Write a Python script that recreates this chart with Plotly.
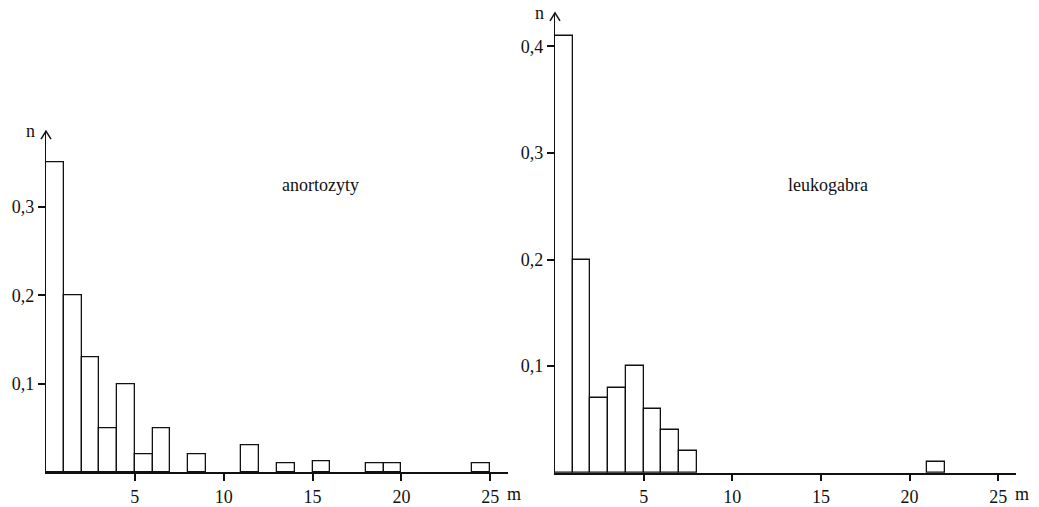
import plotly.graph_objects as go

# Relative frequency n of each 1 m class of m (bins 0-1, 1-2, ... 25-26)
anortozyty = [0.35, 0.20, 0.13, 0.05, 0.10, 0.02, 0.05, 0.0, 0.02, 0.0,
              0.0, 0.03, 0.0, 0.01, 0.0, 0.012, 0.0, 0.0, 0.01, 0.01,
              0.0, 0.0, 0.0, 0.0, 0.01, 0.0]
leukogabra = [0.41, 0.20, 0.07, 0.08, 0.10, 0.06, 0.04, 0.02, 0.0, 0.0,
              0.0, 0.0, 0.0, 0.0, 0.0, 0.0, 0.0, 0.0, 0.0, 0.0,
              0.0, 0.01, 0.0, 0.0, 0.0, 0.0]

x_ticks = [5, 10, 15, 20, 25]
x_ticktext = ["5", "10", "15", "20", "25"]
left_yticks = [0.1, 0.2, 0.3]
left_yticktext = ["0,1", "0,2", "0,3"]
right_yticks = [0.1, 0.2, 0.3, 0.4]
right_yticktext = ["0,1", "0,2", "0,3", "0,4"]
titles = ["anortozyty", "leukogabra"]

W, H = 1039, 507
FONT = "Liberation Serif"
FS = 18
INK = "#111111"


def bar_trace(freqs, xa, ya):
    xs = [i + 0.5 for i, v in enumerate(freqs) if v > 0]
    ys = [v for v in freqs if v > 0]
    return go.Bar(x=xs, y=ys, width=1.0, xaxis=xa, yaxis=ya,
                  marker=dict(color="white", line=dict(color=INK, width=1.3)),
                  showlegend=False, hoverinfo="x+y")


fig = go.Figure()
fig.add_trace(bar_trace(anortozyty, "x", "y"))
fig.add_trace(bar_trace(leukogabra, "x2", "y2"))

# panel geometry (paper fractions)
left_x = [46 / W, 508 / W]
left_y = [(H - 475) / H, (H - 132) / H]
right_x = [555 / W, 1016 / W]
right_y = [(H - 475.5) / H, (H - 13) / H]

common_x = dict(range=[0, 26], showgrid=False, zeroline=False, showline=True,
                linecolor=INK, linewidth=1.6, ticks="outside", ticklen=7,
                tickwidth=1.6, tickcolor=INK, tickvals=x_ticks,
                ticktext=x_ticktext, tickfont=dict(family=FONT, size=FS, color=INK),
                fixedrange=True)
common_y = dict(showgrid=False, zeroline=False, showline=True, linecolor=INK,
                linewidth=1.4, ticks="outside", ticklen=7, tickwidth=1.6,
                tickcolor=INK, tickfont=dict(family=FONT, size=FS, color=INK),
                fixedrange=True)

fig.update_layout(
    width=W, height=H,
    margin=dict(l=0, r=0, t=0, b=0),
    paper_bgcolor="white", plot_bgcolor="white",
    bargap=0,
    xaxis=dict(common_x, domain=left_x, anchor="y"),
    yaxis=dict(common_y, domain=left_y, anchor="x", range=[0, (475 - 132) / 890],
               tickvals=left_yticks, ticktext=left_yticktext),
    xaxis2=dict(common_x, domain=right_x, anchor="y2"),
    yaxis2=dict(common_y, domain=right_y, anchor="x2", range=[0, (475.5 - 13) / 1072],
                tickvals=right_yticks, ticktext=right_yticktext),
)

# arrowheads on the top of each y axis, axis letters and panel names
shapes = []
annotations = []
for xd, yd, title, tx in [(left_x, left_y, titles[0], 320), (right_x, right_y, titles[1], 828)]:
    tip_x, tip_y = xd[0], yd[1]
    dx, dy = 5 / W, 8 / H
    shapes.append(dict(type="path", xref="paper", yref="paper",
                       path=f"M {tip_x - dx} {tip_y - dy} L {tip_x} {tip_y} L {tip_x + dx} {tip_y - dy}",
                       line=dict(color=INK, width=1.5)))
    annotations.append(dict(xref="paper", yref="paper", x=tip_x - 16 / W, y=tip_y,
                            text="n", showarrow=False, xanchor="center", yanchor="middle",
                            font=dict(family=FONT, size=FS, color=INK)))
    annotations.append(dict(xref="paper", yref="paper", x=xd[1] - 3 / W, y=(H - 497) / H,
                            text="m", showarrow=False, xanchor="left", yanchor="middle",
                            font=dict(family=FONT, size=FS, color=INK)))
    annotations.append(dict(xref="paper", yref="paper", x=tx / W, y=(H - 186) / H,
                            text=title, showarrow=False, xanchor="center", yanchor="middle",
                            font=dict(family=FONT, size=FS, color=INK)))

fig.update_layout(shapes=shapes, annotations=annotations)

fig.write_html("out.html")
